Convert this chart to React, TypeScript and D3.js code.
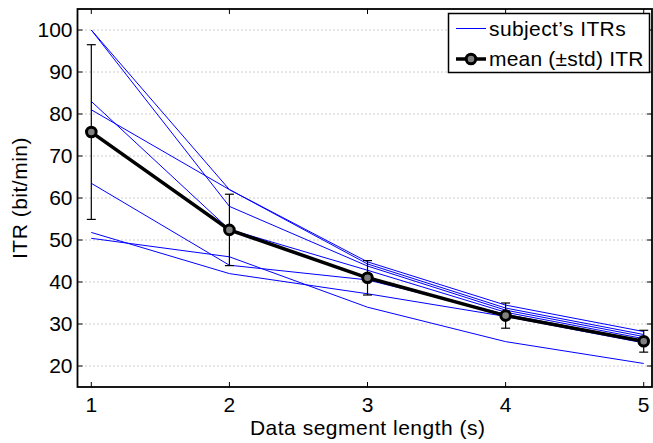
import React from "react";
import * as d3 from "d3";

// segment lengths (s)
const segLengths = [1, 2, 3, 4, 5];

// per-subject ITR values (bit/min), one array per subject
const subjectA = [100, 62, 44.8, 34.5, 28.2];
const subjectB = [100, 58, 43.8, 33.3, 27.0];
const subjectC = [83, 52.5, 42.8, 32.8, 26.5];
const subjectD = [81, 62, 44.3, 33.8, 27.5];
const subjectE = [63.5, 44, 40.5, 32.3, 26.0];
const subjectF = [51.8, 42, 37.2, 31.8, 25.5];
const subjectG = [50.4, 46, 34, 25.8, 20.6];
const subjects = [subjectA, subjectB, subjectC, subjectD, subjectE, subjectF, subjectG];

// mean and std across subjects
const meanITR = [75.7, 52.4, 41.0, 32.0, 25.9];
const stdITR = [20.8, 8.5, 4.1, 3.0, 2.6];

const yTicks = [20, 30, 40, 50, 60, 70, 80, 90, 100];
const xTicks = [1, 2, 3, 4, 5];

const width = 653;
const height = 443;
const left = 77.5;
const right = 652;
const top = 9;
const bottom = 387;
const font = "'Liberation Sans', Arial, Helvetica, sans-serif";

const App = () => {
  const x = d3.scaleLinear().domain([0.9, 5.06]).range([left, right]);
  const y = d3.scaleLinear().domain([15, 105]).range([bottom, top]);

  const line = d3
    .line<number>()
    .x((d, i) => x(segLengths[i]))
    .y((d) => y(d));

  const tickLen = 5;

  return (
    <svg
      width={width}
      height={height}
      style={{ position: "absolute", left: 0, top: 0, background: "#fff" }}
      fontFamily={font}
    >
      {/* horizontal dotted grid */}
      {yTicks.map((t) => (
        <line
          key={"g" + t}
          x1={left}
          x2={right}
          y1={y(t)}
          y2={y(t)}
          stroke="#999"
          strokeWidth={1}
          strokeDasharray="1,3"
        />
      ))}

      {/* subject lines */}
      {subjects.map((s, i) => (
        <path key={"s" + i} d={line(s) || ""} fill="none" stroke="#0000ff" strokeWidth={1} />
      ))}

      {/* error bars */}
      {meanITR.map((m, i) => {
        const cx = x(segLengths[i]);
        const y1 = y(m + stdITR[i]);
        const y2 = y(m - stdITR[i]);
        return (
          <g key={"e" + i} stroke="#000" strokeWidth={1.2}>
            <line x1={cx} x2={cx} y1={y1} y2={y2} />
            <line x1={cx - 4.5} x2={cx + 4.5} y1={y1} y2={y1} />
            <line x1={cx - 4.5} x2={cx + 4.5} y1={y2} y2={y2} />
          </g>
        );
      })}

      {/* mean line */}
      <path d={line(meanITR) || ""} fill="none" stroke="#000" strokeWidth={3.5} />
      {meanITR.map((m, i) => (
        <circle
          key={"m" + i}
          cx={x(segLengths[i])}
          cy={y(m)}
          r={4.8}
          fill="#808080"
          stroke="#000"
          strokeWidth={3}
        />
      ))}

      {/* axes box */}
      <rect x={left} y={top} width={right - left} height={bottom - top} fill="none" stroke="#000" strokeWidth={1.8} />

      {/* y ticks */}
      {yTicks.map((t) => (
        <g key={"y" + t}>
          <line x1={left} x2={left + tickLen} y1={y(t)} y2={y(t)} stroke="#000" strokeWidth={1} />
          <line x1={right} x2={right - tickLen} y1={y(t)} y2={y(t)} stroke="#000" strokeWidth={1} />
          <text x={left - 5} y={y(t)} dy="0.35em" textAnchor="end" fontSize={21} fill="#000">
            {t}
          </text>
        </g>
      ))}

      {/* x ticks */}
      {xTicks.map((t) => (
        <g key={"x" + t}>
          <line x1={x(t)} x2={x(t)} y1={bottom} y2={bottom - tickLen} stroke="#000" strokeWidth={1} />
          <line x1={x(t)} x2={x(t)} y1={top} y2={top + tickLen} stroke="#000" strokeWidth={1} />
          <text x={x(t)} y={412} textAnchor="middle" fontSize={21} fill="#000">
            {t}
          </text>
        </g>
      ))}

      {/* axis titles */}
      <text x={(left + right) / 2 + 3} y={435} textAnchor="middle" fontSize={21} letterSpacing={0.5} fill="#000">
        Data segment length (s)
      </text>
      <text
        transform={`translate(27,${(top + bottom) / 2}) rotate(-90)`}
        textAnchor="middle"
        fontSize={21}
        letterSpacing={0.5}
        fill="#000"
      >
        ITR (bit/min)
      </text>

      {/* legend */}
      <g>
        <rect x={448.5} y={13.5} width={201} height={59} fill="#fff" stroke="#000" strokeWidth={1.5} />
        <line x1={456} x2={486} y1={28.5} y2={28.5} stroke="#0000ff" strokeWidth={1} />
        <text x={489} y={36} fontSize={21} letterSpacing={0.4} fill="#000">
          subject’s ITRs
        </text>
        <line x1={456} x2={486} y1={59} y2={59} stroke="#000" strokeWidth={3.5} />
        <circle cx={471} cy={59} r={4.8} fill="#808080" stroke="#000" strokeWidth={3} />
        <text x={489} y={66} fontSize={21} letterSpacing={0.2} fill="#000">
          mean (±std) ITR
        </text>
      </g>
    </svg>
  );
};

export default App;
